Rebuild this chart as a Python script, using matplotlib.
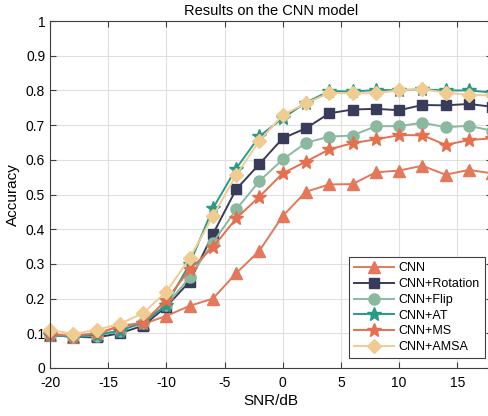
import matplotlib
matplotlib.use("Agg")
import matplotlib.pyplot as plt

plt.rcParams["font.family"] = ["Liberation Sans", "DejaVu Sans"]
plt.rcParams["axes.unicode_minus"] = False

snr = [-20, -18, -16, -14, -12, -10, -8, -6, -4, -2, 0, 2, 4, 6, 8, 10, 12, 14, 16, 18]

acc_cnn = [0.095, 0.090, 0.095, 0.124, 0.127, 0.150, 0.179, 0.200, 0.273, 0.338,
           0.438, 0.508, 0.529, 0.530, 0.564, 0.569, 0.583, 0.557, 0.571, 0.561]
acc_rotation = [0.095, 0.090, 0.088, 0.100, 0.122, 0.177, 0.249, 0.386, 0.515, 0.588,
                0.662, 0.691, 0.734, 0.745, 0.747, 0.743, 0.758, 0.757, 0.761, 0.753]
acc_flip = [0.095, 0.090, 0.093, 0.108, 0.130, 0.182, 0.261, 0.361, 0.457, 0.539,
            0.601, 0.649, 0.667, 0.670, 0.697, 0.697, 0.707, 0.694, 0.698, 0.684]
acc_at = [0.095, 0.090, 0.095, 0.108, 0.131, 0.182, 0.300, 0.460, 0.575, 0.668,
          0.720, 0.765, 0.798, 0.797, 0.801, 0.801, 0.803, 0.800, 0.800, 0.794]
acc_ms = [0.097, 0.093, 0.100, 0.119, 0.131, 0.196, 0.284, 0.348, 0.431, 0.494,
          0.561, 0.595, 0.630, 0.648, 0.659, 0.671, 0.671, 0.643, 0.657, 0.662]
acc_amsa = [0.110, 0.098, 0.110, 0.127, 0.158, 0.220, 0.316, 0.438, 0.556, 0.655,
            0.729, 0.763, 0.793, 0.792, 0.792, 0.801, 0.803, 0.794, 0.787, 0.786]

series = [
    ("CNN", acc_cnn, "#E3785A", "^", 8),
    ("CNN+Rotation", acc_rotation, "#383C5A", "s", 7),
    ("CNN+Flip", acc_flip, "#8AB9A0", "o", 8),
    ("CNN+AT", acc_at, "#2A9A88", "*", 10),
    ("CNN+MS", acc_ms, "#E5704F", "*", 10),
    ("CNN+AMSA", acc_amsa, "#F0CC92", "D", 7),
]

fig = plt.figure(figsize=(4.88, 4.16), dpi=100)
# right edge of the axes sits just past the picture, as in the cropped original
ax = fig.add_axes([0.1025, 0.1154, 0.906, 0.834])

for name, vals, color, marker, ms in series:
    ax.plot(snr, vals, color=color, marker=marker, markersize=ms,
            linewidth=1.4, label=name, clip_on=False)

ax.set_xlim(-20, 18)
ax.set_ylim(0, 1)
ax.set_xticks([-20, -15, -10, -5, 0, 5, 10, 15])
ax.set_yticks([i / 10 for i in range(11)])
ax.set_yticklabels(["0", "0.1", "0.2", "0.3", "0.4", "0.5", "0.6", "0.7", "0.8", "0.9", "1"])
ax.grid(True, color="#E0E0E0", linewidth=0.8)
ax.set_axisbelow(True)
ax.tick_params(direction="in", top=True, right=True, labelsize=10,
               color="#404040", length=4)
ax.tick_params(axis="x", pad=6)
for sp in ax.spines.values():
    sp.set_color("#404040")
    sp.set_linewidth(0.8)

ax.set_title("Results on the CNN model", fontsize=10.5, pad=4)
ax.set_xlabel("SNR/dB", fontsize=11, labelpad=3)
ax.set_ylabel("Accuracy", fontsize=11)

leg = ax.legend(loc="lower right", bbox_to_anchor=(0.994, 0.139),
                bbox_transform=fig.transFigure, borderaxespad=0,
                fancybox=False, framealpha=1, edgecolor="#404040",
                fontsize=9, handlelength=3.2, handletextpad=0.4,
                labelspacing=0.3, borderpad=0.4)
leg.get_frame().set_linewidth(0.8)

fig.savefig("out.png", dpi=100)
